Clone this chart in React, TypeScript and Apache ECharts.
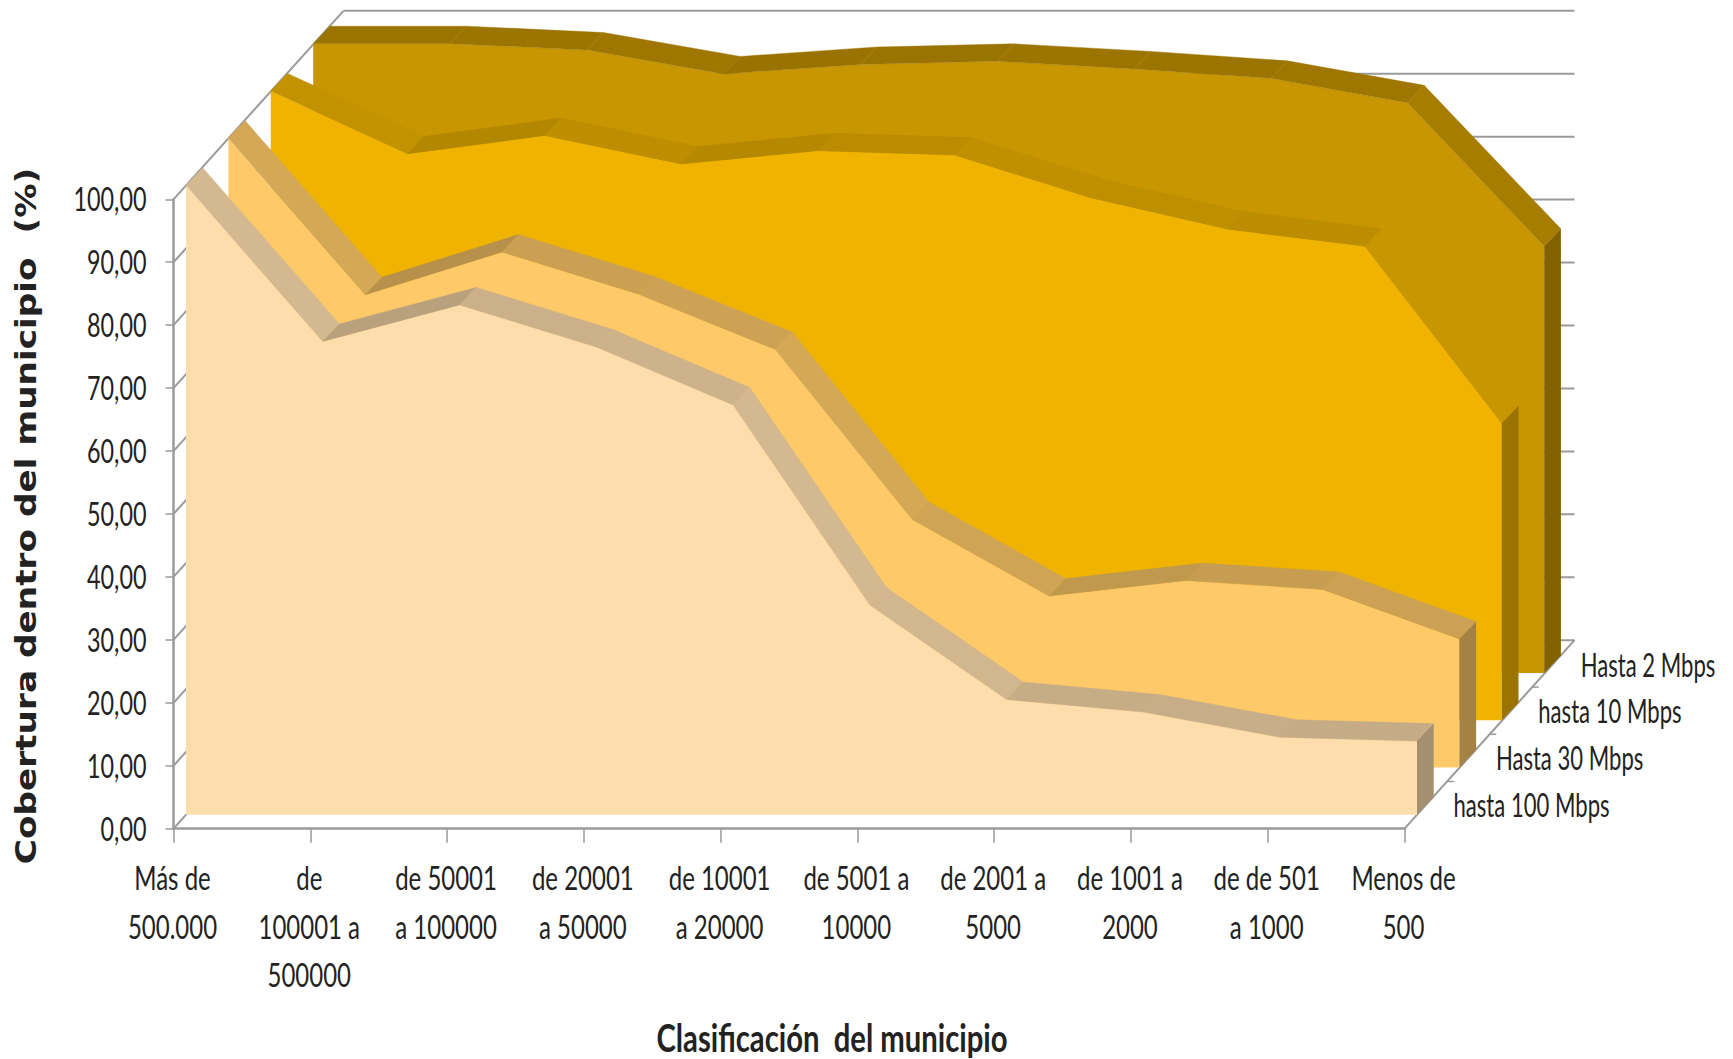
import React, { useEffect, useRef } from "react";
import * as echarts from "echarts";

const categories = [
  "Más de\n500.000",
  "de\n100001 a\n500000",
  "de 50001\na 100000",
  "de 20001\na 50000",
  "de 10001\na 20000",
  "de 5001 a\n10000",
  "de 2001 a\n5000",
  "de 1001 a\n2000",
  "de de 501\na 1000",
  "Menos de\n500",
];
const depthNames = ["hasta 100 Mbps", "Hasta 30 Mbps", "hasta 10 Mbps", "Hasta 2 Mbps"];
const hasta100 = [100, 75.2, 81, 74.3, 65.1, 33.3, 18.3, 16.3, 12.3, 11.7];
const hasta30 = [100, 75.1, 81.9, 75.2, 66.4, 39.4, 27.25, 29.7, 28.3, 20.4];
const hasta10 = [100, 90, 92.9, 88.4, 90.5, 89.8, 83, 78, 75.3, 47.2];
const hasta2 = [100, 100, 99, 95.2, 96.7, 97.2, 96, 94.5, 90.6, 67.8];
const yTicks = [0, 10, 20, 30, 40, 50, 60, 70, 80, 90, 100];
const colors = ["#FEDDAC", "#FEC968", "#F0B400", "#C89600"];

const FONT = "Lato, sans-serif";
const FONT_SIZE = 32;
const TEXT = "#222";
const GREY = "#9a9a9a";
const DEPTH_X = 42.4;
const DEPTH_Y = -47.2;
const INSET_X = 12.5;
const INSET_Y = -14;
const RIDGE_X = 16.7;
const RIDGE_Y = -17.5;
const BACK_X = 170;
const BACK_Y = -188.5;

function shade(hex: string, f: number) {
  const n = parseInt(hex.slice(1), 16);
  const c = (s: number) => Math.round(((n >> s) & 255) * f);
  return `rgb(${c(16)},${c(8)},${c(0)})`;
}

function ridgeFactor(slope: number) {
  return slope > 0 ? 0.775 + 0.06 * Math.min(slope / 0.8, 1) : 0.775 + 0.18 * Math.max(slope, -0.4);
}

const label = (text: string, x: number, y: number, align: string, vAlign: string, squeeze: number) => ({
  type: "text",
  x,
  y,
  scaleX: squeeze,
  style: {
    text,
    fill: TEXT,
    fontFamily: FONT,
    fontSize: FONT_SIZE,
    lineHeight: 48.5,
    textAlign: align,
    textVerticalAlign: vAlign,
  },
});

function panelSeries(values: number[], depth: number) {
  const color = colors[depth];
  const ox = INSET_X + depth * DEPTH_X;
  const oy = INSET_Y + depth * DEPTH_Y;
  return {
    type: "custom",
    name: depthNames[depth],
    silent: true,
    z: 3,
    data: values.map((v, i) => [i, v]),
    encode: { x: 0, y: 1 },
    renderItem: (params: any, api: any) => {
      const i = params.dataIndex;
      const at = (k: number, v: number) => {
        const p = api.coord([k, v]);
        return [p[0] + ox, p[1] + oy];
      };
      const up = (p: number[]) => [p[0] + RIDGE_X, p[1] + RIDGE_Y];
      const children: any[] = [];
      if (i === 0) {
        const top = values.map((v, k) => at(k, v));
        children.push({
          type: "polygon",
          shape: { points: [at(0, 0), ...top, at(values.length - 1, 0)] },
          style: { fill: color },
        });
      }
      const a = at(i, values[i]);
      if (i < values.length - 1) {
        const b = at(i + 1, values[i + 1]);
        const fill = shade(color, ridgeFactor((b[1] - a[1]) / (b[0] - a[0])));
        children.push({
          type: "polygon",
          shape: { points: [a, b, up(b), up(a)] },
          style: { fill, stroke: fill, lineWidth: 0.4 },
        });
      } else {
        const base = at(i, 0);
        children.push({
          type: "polygon",
          shape: { points: [a, up(a), up(base), base] },
          style: { fill: shade(color, 0.645) },
        });
        const corner = api.coord([i, 0]);
        children.push(
          label(depthNames[depth], corner[0] + 49 + depth * DEPTH_X, corner[1] - 24 + depth * -46.8, "left", "middle", 0.69)
        );
      }
      return { type: "group", children };
    },
  };
}

const line = (a: number[], b: number[], width = 2) => ({
  type: "line",
  shape: { x1: a[0], y1: a[1], x2: b[0], y2: b[1] },
  style: { stroke: GREY, lineWidth: width },
});

const wallSeries = {
  type: "custom",
  silent: true,
  z: 1,
  data: yTicks.map((v) => [0, v]),
  encode: { x: 0, y: 1 },
  renderItem: (params: any, api: any) => {
    const v = api.value(1);
    const last = categories.length - 1;
    const l = api.coord([0, v]);
    const r = api.coord([last, v]);
    const children: any[] = [
      line(l, [l[0] + BACK_X, l[1] + BACK_Y]),
      line([l[0] + BACK_X, l[1] + BACK_Y], [r[0] + BACK_X, r[1] + BACK_Y]),
      label(v.toFixed(2).replace(".", ","), l[0] - 27, l[1] - 0.5, "right", "middle", 0.73),
    ];
    if (v === 0) {
      children.push(line(r, [r[0] + BACK_X, r[1] + BACK_Y]));
      for (let d = 1; d <= 3; d++) {
        const x = r[0] + d * DEPTH_X;
        const y = r[1] + d * DEPTH_Y;
        children.push(line([x, y], [x + 7, y], 1.5));
      }
    }
    return { type: "group", children };
  },
};

const categorySeries = {
  type: "custom",
  silent: true,
  z: 4,
  data: categories.map((_, i) => [i, 0]),
  encode: { x: 0, y: 1 },
  renderItem: (params: any, api: any) => {
    const i = params.dataIndex;
    const p = api.coord([i, 0]);
    return label(categories[i], p[0] - 1, p[1] + 25, "center", "top", 0.75);
  },
};

export default function App() {
  const ref = useRef<HTMLDivElement>(null);
  useEffect(() => {
    document.body.style.margin = "0";
    document.body.style.overflow = "hidden";
    const chart = echarts.init(ref.current!, undefined, { renderer: "svg" });
    chart.setOption({
      animation: false,
      backgroundColor: "#fff",
      grid: { left: 173.5, top: 199.3, width: 1231, height: 629.4, outerBoundsMode: "none" },
      xAxis: {
        type: "category",
        data: categories,
        boundaryGap: false,
        axisLine: { show: true, lineStyle: { color: GREY, width: 2.5 } },
        axisTick: { show: true, length: 14, alignWithLabel: true, lineStyle: { color: GREY, width: 1.5 } },
        axisLabel: { show: false },
        splitLine: { show: false },
      },
      yAxis: {
        type: "value",
        min: 0,
        max: 100,
        interval: 10,
        axisLine: { show: true, lineStyle: { color: GREY, width: 2.5 } },
        axisTick: { show: true, length: 8, lineStyle: { color: GREY, width: 1.5 } },
        axisLabel: { show: false },
        splitLine: { show: false },
      },
      graphic: [
        {
          type: "text",
          x: 832,
          y: 1037,
          scaleX: 0.75,
          style: {
            text: "Clasificación  del municipio",
            fill: TEXT,
            fontFamily: FONT,
            fontWeight: "bold",
            fontSize: 39,
            textAlign: "center",
            textVerticalAlign: "middle",
          },
        },
        {
          type: "text",
          x: 26.5,
          y: 516,
          rotation: Math.PI / 2,
          scaleX: 1.225,
          style: {
            text: "Cobertura dentro del municipio  (%)",
            fill: TEXT,
            fontFamily: "'DejaVu Sans', sans-serif",
            fontWeight: "bold",
            fontSize: 28,
            textAlign: "center",
            textVerticalAlign: "middle",
          },
        },
      ],
      series: [
        wallSeries,
        panelSeries(hasta2, 3),
        panelSeries(hasta10, 2),
        panelSeries(hasta30, 1),
        panelSeries(hasta100, 0),
        categorySeries,
      ],
    });
    return () => chart.dispose();
  }, []);
  return <div ref={ref} style={{ width: 1733, height: 1059 }} />;
}
